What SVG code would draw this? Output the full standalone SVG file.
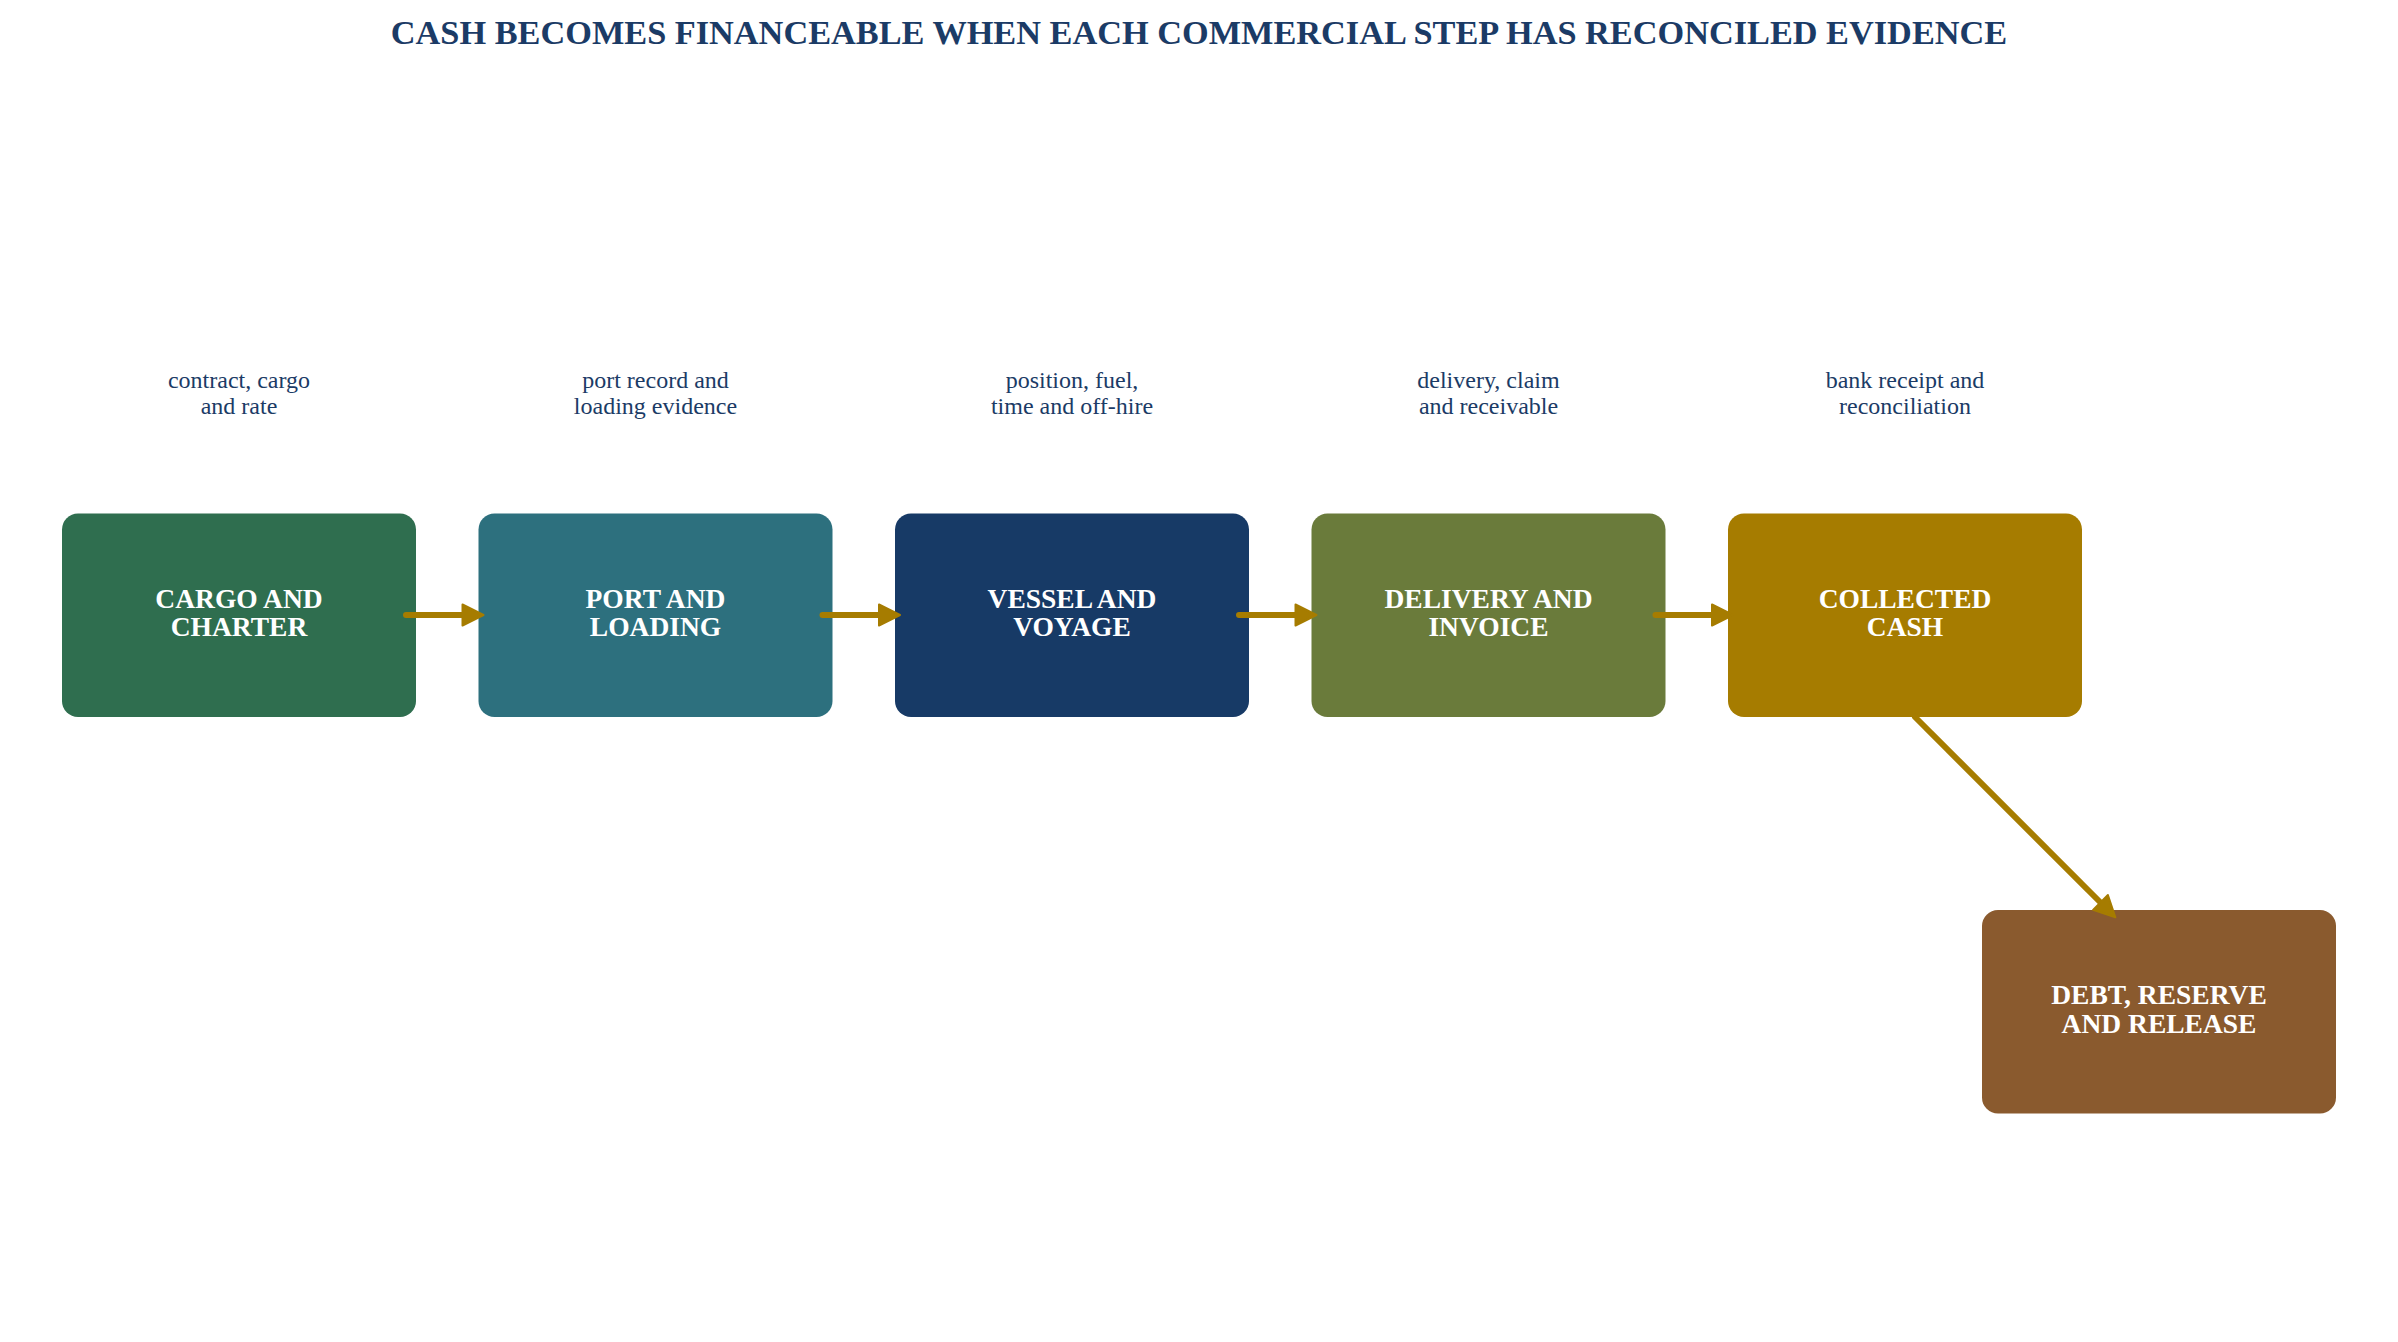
<svg xmlns="http://www.w3.org/2000/svg" width="2398" height="1342" viewBox="0 0 2398 1342">
  <style>
    .title { font-family: "Liberation Serif", "Times New Roman", serif; font-size: 34.3px; font-weight: bold; fill: #1B3B66; text-anchor: middle; }
    .note { font-family: "Liberation Serif", "Times New Roman", serif; font-size: 24px; fill: #1B3B66; text-anchor: middle; }
    .label { font-family: "Liberation Serif", "Times New Roman", serif; font-size: 27.5px; font-weight: bold; fill: #FFFFFF; text-anchor: middle; }
    .edge { fill: none; stroke: #A67C00; stroke-width: 6; stroke-linecap: round; }
  </style>
  <defs>
    <marker id="arrow" viewBox="0 0 24 24" markerWidth="24" markerHeight="24" refX="10" refY="12" orient="auto" markerUnits="userSpaceOnUse">
      <path d="M1.5,1.5 L22.5,12 L1.5,22.5 Z" fill="#A67C00" stroke="#A67C00" stroke-width="2" stroke-linejoin="round"/>
    </marker>
  </defs>
  <rect x="0" y="0" width="2398" height="1342" fill="#FFFFFF"/>
  <text class="title" x="1199" y="44">CASH BECOMES FINANCEABLE WHEN EACH COMMERCIAL STEP HAS RECONCILED EVIDENCE</text>

  <g id="notes">
    <text class="note" x="239" y="388">contract, cargo</text>
    <text class="note" x="239" y="414">and rate</text>
    <text class="note" x="655.5" y="388">port record and</text>
    <text class="note" x="655.5" y="414">loading evidence</text>
    <text class="note" x="1072" y="388">position, fuel,</text>
    <text class="note" x="1072" y="414">time and off-hire</text>
    <text class="note" x="1488.5" y="388">delivery, claim</text>
    <text class="note" x="1488.5" y="414">and receivable</text>
    <text class="note" x="1905" y="388">bank receipt and</text>
    <text class="note" x="1905" y="414">reconciliation</text>
  </g>

  <g id="cargo-charter">
    <rect x="62" y="513.5" width="354" height="203.5" rx="16" fill="#2F6E4F"/>
    <text class="label" x="239" y="607.5">CARGO AND</text>
    <text class="label" x="239" y="635.5">CHARTER</text>
  </g>
  <g id="port-loading">
    <rect x="478.5" y="513.5" width="354" height="203.5" rx="16" fill="#2D707E"/>
    <text class="label" x="655.5" y="607.5">PORT AND</text>
    <text class="label" x="655.5" y="635.5">LOADING</text>
  </g>
  <g id="vessel-voyage">
    <rect x="895" y="513.5" width="354" height="203.5" rx="16" fill="#173A66"/>
    <text class="label" x="1072" y="607.5">VESSEL AND</text>
    <text class="label" x="1072" y="635.5">VOYAGE</text>
  </g>
  <g id="delivery-invoice">
    <rect x="1311.5" y="513.5" width="354" height="203.5" rx="16" fill="#6A7B3B"/>
    <text class="label" x="1488.5" y="607.5">DELIVERY AND</text>
    <text class="label" x="1488.5" y="635.5">INVOICE</text>
  </g>
  <g id="collected-cash">
    <rect x="1728" y="513.5" width="354" height="203.5" rx="16" fill="#A67C00"/>
    <text class="label" x="1905" y="607.5">COLLECTED</text>
    <text class="label" x="1905" y="635.5">CASH</text>
  </g>
  <g id="debt-reserve-release">
    <rect x="1982" y="910" width="354" height="203.5" rx="16" fill="#8A5A2E"/>
    <text class="label" x="2159" y="1004">DEBT, RESERVE</text>
    <text class="label" x="2159" y="1032.5">AND RELEASE</text>
  </g>

  <g id="connectors">
    <path class="edge" d="M406,615 L471,615" marker-end="url(#arrow)"/>
    <path class="edge" d="M822.5,615 L887.5,615" marker-end="url(#arrow)"/>
    <path class="edge" d="M1239,615 L1304,615" marker-end="url(#arrow)"/>
    <path class="edge" d="M1655.5,615 L1720.5,615" marker-end="url(#arrow)"/>
    <path class="edge" d="M1915,717 L2106.5,908.5" marker-end="url(#arrow)"/>
  </g>
</svg>
